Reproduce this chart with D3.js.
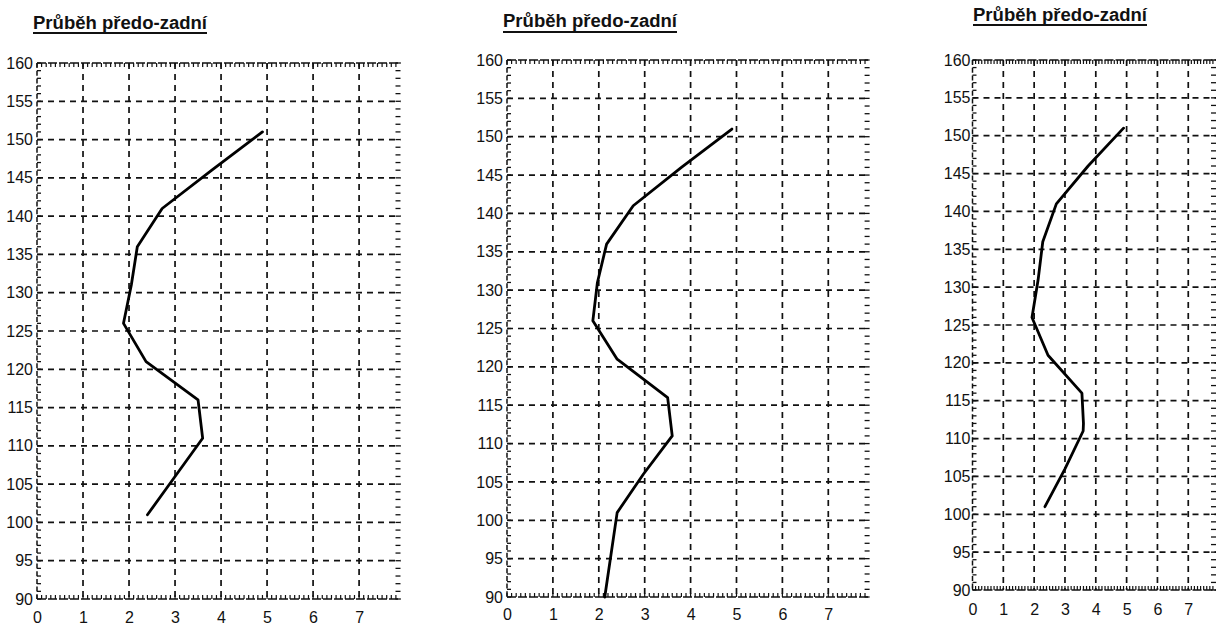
<!DOCTYPE html>
<html>
<head>
<meta charset="utf-8">
<script src="https://cdn.jsdelivr.net/npm/d3@7"></script>
<style>
  html, body { margin: 0; padding: 0; background: #fff; }
  svg { display: block; }
  text { font-family: "Liberation Sans", Arial, sans-serif; fill: #111; }
</style>
</head>
<body>
<svg id="chart" width="1221" height="626"></svg>
<script>
// ---- data ----
const titleText = "Průběh předo-zadní";
const xTicks = [0, 1, 2, 3, 4, 5, 6, 7];
const yTicks = [90, 95, 100, 105, 110, 115, 120, 125, 130, 135, 140, 145, 150, 155, 160];

// panel 1
const depth1 = [101, 106, 111, 116, 121, 126, 131, 136, 141, 146, 151];
const ap1    = [2.4, 3.0, 3.6, 3.5, 2.37, 1.88, 2.05, 2.18, 2.72, 3.8, 4.9];
// panel 2
const depth2 = [90, 101, 106, 111, 116, 121, 126, 131, 136, 141, 146, 151];
const ap2    = [2.13, 2.4, 2.97, 3.6, 3.5, 2.4, 1.87, 1.97, 2.17, 2.75, 3.8, 4.9];
// panel 3
const depth3 = [101, 106, 111, 112, 116, 121, 126, 131, 136, 141, 146, 151];
const ap3    = [2.35, 3.0, 3.59, 3.6, 3.55, 2.45, 1.93, 2.13, 2.28, 2.72, 3.75, 4.9];

// ---- layout ----
const panels = [
  { depth: depth1, ap: ap1, x0: 37,    x1: 400.5, yTop: 63, yBot: 599,
    tx: 33,  ty: 29, tu: 33, labelY: 623, pad: 4 },
  { depth: depth2, ap: ap2, x0: 507,   x1: 869.6, yTop: 60, yBot: 597,
    tx: 503, ty: 27, tu: 32, labelY: 620, pad: 4 },
  { depth: depth3, ap: ap3, x0: 972.5, x1: 1216,  yTop: 60, yBot: 590,
    tx: 973, ty: 21, tu: 25, labelY: 615, pad: 2 }
];

const svg = d3.select("#chart");
const ink = "#111";

panels.forEach(p => {
  const x = d3.scaleLinear().domain([0, 7.9]).range([p.x0, p.x1]);
  const y = d3.scaleLinear().domain([90, 160]).range([p.yBot, p.yTop]);
  const g = svg.append("g");

  // title
  g.append("text")
    .attr("x", p.tx).attr("y", p.ty)
    .attr("font-size", 18).attr("font-weight", "bold")
    .attr("textLength", 174).attr("lengthAdjust", "spacingAndGlyphs")
    .text(titleText);
  g.append("line")
    .attr("x1", p.tx).attr("x2", p.tx + 174)
    .attr("y1", p.tu).attr("y2", p.tu)
    .attr("stroke", ink).attr("stroke-width", 2);

  // dashed grid
  g.append("g").selectAll("line")
    .data(xTicks.filter(d => d > 0))
    .join("line")
    .attr("x1", d => x(d)).attr("x2", d => x(d))
    .attr("y1", p.yTop).attr("y2", p.yBot)
    .attr("stroke", ink).attr("stroke-width", 1.7)
    .attr("stroke-dasharray", "6,5");
  g.append("g").selectAll("line")
    .data(yTicks.filter(d => d > 90 && d < 160))
    .join("line")
    .attr("x1", p.x0).attr("x2", p.x1)
    .attr("y1", d => y(d)).attr("y2", d => y(d))
    .attr("stroke", ink).attr("stroke-width", 1.7)
    .attr("stroke-dasharray", "6,5");

  // frame: top / bottom with dense minor ticks
  const minorX = d3.range(0, 79).map(i => i / 10);
  [p.yTop, p.yBot].forEach((yy, k) => {
    g.append("line")
      .attr("x1", p.x0).attr("x2", p.x1).attr("y1", yy).attr("y2", yy)
      .attr("stroke", ink).attr("stroke-width", 1.5)
      .attr("stroke-dasharray", "9,2");
    g.append("g").selectAll("line").data(minorX).join("line")
      .attr("x1", d => x(d)).attr("x2", d => x(d))
      .attr("y1", yy).attr("y2", k === 0 ? yy + 4 : yy - 4)
      .attr("stroke", ink).attr("stroke-width", 1.2);
  });
  // left edge
  const minorY = d3.range(90, 161);
  g.append("line")
    .attr("x1", p.x0).attr("x2", p.x0).attr("y1", p.yTop).attr("y2", p.yBot)
    .attr("stroke", ink).attr("stroke-width", 1.5)
    .attr("stroke-dasharray", "5,2.7");
  g.append("g").selectAll("line").data(minorY).join("line")
    .attr("x1", p.x0).attr("x2", p.x0 + 4)
    .attr("y1", d => y(d)).attr("y2", d => y(d))
    .attr("stroke", ink).attr("stroke-width", 1.3);
  // right edge ticks
  g.append("g").selectAll("line").data(minorY).join("line")
    .attr("x1", p.x1 - 5).attr("x2", p.x1)
    .attr("y1", d => y(d)).attr("y2", d => y(d))
    .attr("stroke", ink).attr("stroke-width", 1.3);

  // axes labels
  const ax = g.append("g").attr("transform", `translate(0,${p.yBot})`)
    .call(d3.axisBottom(x).tickValues(xTicks).tickSize(0).tickFormat(d3.format("d")));
  ax.select(".domain").remove();
  ax.selectAll("text").attr("y", p.labelY - p.yBot).attr("dy", 0)
    .attr("font-size", 16).attr("fill", ink)
    .attr("font-family", "Liberation Sans, Arial, sans-serif");

  const ay = g.append("g").attr("transform", `translate(${p.x0},0)`)
    .call(d3.axisLeft(y).tickValues(yTicks).tickSize(0).tickPadding(p.pad).tickFormat(d3.format("d")));
  ay.select(".domain").remove();
  ay.selectAll("text").attr("font-size", 16).attr("fill", ink)
    .attr("font-family", "Liberation Sans, Arial, sans-serif");

  // data line
  const pts = p.depth.map((d, i) => [p.ap[i], d]);
  g.append("path")
    .datum(pts)
    .attr("fill", "none").attr("stroke", "#000")
    .attr("stroke-width", 2.8).attr("stroke-linejoin", "round")
    .attr("stroke-linecap", "round")
    .attr("d", d3.line().x(d => x(d[0])).y(d => y(d[1])));
});
</script>
</body>
</html>
